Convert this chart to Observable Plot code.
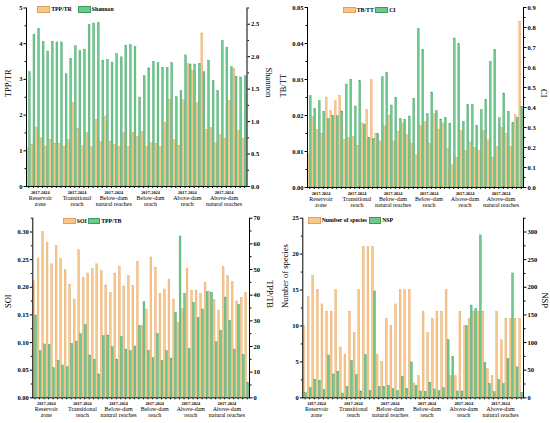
<!DOCTYPE html>
<html><head><meta charset="utf-8">
<script src="https://cdn.jsdelivr.net/npm/d3@7"></script>
<script src="https://cdn.jsdelivr.net/npm/@observablehq/plot@0.6"></script>
<style>
body{margin:0;background:#fff;}
#root{position:relative;width:550px;height:423px;overflow:hidden;font-family:"Liberation Serif","Times New Roman",serif;background:#fff;}
.panel{position:absolute;}
.panel svg{position:absolute;left:0;top:0;}
.sw{position:absolute;box-sizing:border-box;}
.lt{position:absolute;font-weight:bold;font-size:5.8px;white-space:nowrap;color:#000;font-family:"Liberation Serif","Times New Roman",serif;}
</style>
</head><body><div id="root"></div>
<script>
// ---------- data ----------
const yearSpan = "2017-2024";
const groupLine1 = ["Reservoir","Transitional","Below-dam","Below-dam","Above-dam","Above-dam"];
const groupLine2 = ["zone","reach","natural reaches","reach","reach","natural reaches"];

const tppTR = [1.07,1.17,1.65,1.35,1.12,1.31,1.2,1.2, 1.12,1.30,2.35,1.62,1.13,1.5,1.1,1.87,
  1.24,1.96,1.26,1.17,1.11,1.5,1.11,1.51, 1.39,1.53,1.11,1.21,1.19,1.11,1.79,2.43,
  1.3,1.14,2.42,3.43,3.24,2.33,4.29,1.59, 1.64,1.21,1.44,1.33,2.4,3.29,1.56,1.34];
const shannon = [1.76,2.34,2.43,2.23,2.08,2.23,2.22,2.22, 1.73,1.97,2.16,2.09,2.11,2.49,2.51,2.52,
  1.94,1.95,1.91,2.04,1.99,2.17,2.18,2.15, 1.37,1.70,1.82,1.92,1.90,1.83,1.83,1.90,
  1.38,1.47,2.02,1.88,1.88,1.89,1.76,1.94, 1.63,1.47,2.24,2.14,1.84,1.69,1.68,1.70];

const tbTT = [0.0093,0.0195,0.016,0.0149,0.025,0.0212,0.024,0.0255, 0.0133,0.0137,0.0141,0.0116,0.0178,0.0215,0.0298,0.015,
  0.0128,0.017,0.02,0.0128,0.0155,0.0178,0.0145,0.0122, 0.009,0.017,0.0182,0.0122,0.0204,0.0161,0.0178,0.0108,
  0.0062,0.0083,0.0157,0.0102,0.0125,0.011,0.0102,0.0157, 0.0131,0.0083,0.0113,0.0166,0.015,0.0112,0.0201,0.0461];
const ci = [0.457,0.392,0.434,0.376,0.342,0.356,0.356,0.380, 0.515,0.538,0.405,0.531,0.315,0.247,0.243,0.266,
  0.551,0.571,0.410,0.446,0.342,0.337,0.355,0.443, 0.792,0.686,0.367,0.475,0.382,0.340,0.349,0.317,
  0.745,0.716,0.328,0.412,0.412,0.306,0.387,0.437, 0.628,0.686,0.346,0.470,0.378,0.322,0.349,0.403];

const soi = [0.211,0.252,0.300,0.280,0.2415,0.275,0.251,0.231, 0.205,0.178,0.267,0.217,0.225,0.2325,0.2415,0.229,
  0.2035,0.190,0.225,0.2375,0.2015,0.220,0.202,0.246, 0.130,0.160,0.254,0.2355,0.188,0.196,0.214,0.178,
  0.135,0.161,0.234,0.194,0.194,0.188,0.208,0.191, 0.177,0.158,0.237,0.220,0.2095,0.1745,0.181,0.1895];
const tppTB = [32.1,18.2,20.8,20.6,11.6,14.5,12.6,11.9, 21.0,21.9,24.8,28.4,16.5,14.9,9.1,24.0,
  24.3,19.7,14.9,23.6,18.8,18.2,20.0,27.9, 37.3,18.3,15.5,24.9,14.4,18.2,15.3,33.2,
  62.9,40.5,19.1,37.0,31.2,34.4,41.2,40.9, 21.7,26.2,39.1,30.1,18.8,36.2,16.8,5.8];

const nSpecies = [10,14,17,15,13,12,12,15, 7,6,12,9,15,21,21,21,
  6,5,11,10,13,15,15,15, 2,3,12,9,11,12,12,15,
  3,3,12,10,11,12,12,12, 4,3,12,8,11,11,11,11];
const nsp = [8.4,17.5,32.6,30.8,13.9,76.6,42.2,47, 7.8,19.3,66.4,41,11.5,77.2,12.7,192.5,
  19.3,19.9,21.7,15.7,12.1,38,16.3,64, 21.7,11.5,10.9,27.2,15.1,12.1,17.5,104.4,
  73.6,11.5,11.5,130,167,160.5,294,63.4, 25.3,10,32,25,70,225,55,9];

// ---------- styles ----------
const FONT = "Liberation Serif, Times New Roman, serif";
const ORANGE = "#F8C78C", ORANGE_S = "#E0A05C", GREEN = "#6DC98D", GREEN_S = "#3B9A5E";
const root = document.getElementById("root");

function drawPanel(c) {
  const step = (c.w - c.ml - c.mr) / 48;
  const div = document.createElement("div");
  div.className = "panel";
  Object.assign(div.style, {left: c.left + "px", top: c.top + "px", width: c.w + "px", height: c.h + "px"});
  root.appendChild(div);
  const aRows = c.a.map((v, i) => ({i, v}));
  const bRows = c.b.map((v, i) => ({i, v}));
  const groups = d3.range(6).map(g => ({i: 8 * g + 2, l1: groupLine1[g], l2: groupLine2[g]}));
  const common = {
    width: c.w, height: c.h, marginLeft: c.ml, marginRight: c.mr, marginTop: c.mt, marginBottom: c.mb,
    style: {background: "transparent", fontFamily: FONT, color: "#000", overflow: "visible"}
  };
  const xBand = {type: "band", domain: d3.range(48), paddingInner: 0, paddingOuter: 0, round: false};
  const A = Plot.plot({
    ...common,
    x: xBand,
    y: {domain: c.dL},
    marks: [
      Plot.barY(aRows, {x: "i", y: "v", fill: ORANGE, stroke: ORANGE_S, strokeWidth: 0.35, insetLeft: 0.3, insetRight: step / 2 + 0.1}),
      Plot.axisY({ticks: c.tL, tickFormat: c.fL, tickSize: 2.5, tickPadding: 1.5, fontSize: 6.5, fontWeight: "bold", label: null}),
      Plot.axisY({ticks: c.mL, tickFormat: () => "", tickSize: 1.5, label: null}),
      Plot.axisX({ticks: d3.range(48), tickFormat: () => "", tickSize: 2, label: null}),
      Plot.frame({anchor: "left"}),
      Plot.frame({anchor: "bottom"}),
      Plot.text([c.labL], {frameAnchor: "left", rotate: -90, dx: -c.offL, fontSize: 8.5, text: d => d}),
      Plot.text(groups, {x: "i", dx: step / 2, frameAnchor: "bottom", dy: 7.5, text: () => yearSpan, fontSize: 4.3, fontWeight: "bold"}),
      Plot.text(groups, {x: "i", dx: step / 2, frameAnchor: "bottom", dy: 13.5, text: "l1", fontSize: 6}),
      Plot.text(groups, {x: "i", dx: step / 2, frameAnchor: "bottom", dy: 19.5, text: "l2", fontSize: 6})
    ]
  });
  const B = Plot.plot({
    ...common,
    x: {...xBand, axis: null},
    y: {domain: c.dR, axis: null},
    marks: [
      Plot.barY(bRows, {x: "i", y: "v", fill: GREEN, stroke: GREEN_S, strokeWidth: 0.35, insetLeft: step / 2 + 0.1, insetRight: 0.3}),
      Plot.axisY({anchor: "right", ticks: c.tR, tickFormat: c.fR, tickSize: 2.5, tickPadding: 1.5, fontSize: 6.5, fontWeight: "bold", label: null}),
      Plot.axisY({anchor: "right", ticks: c.mR, tickFormat: () => "", tickSize: 1.5, label: null}),
      Plot.frame({anchor: "right"}),
      Plot.text([c.labR], {frameAnchor: "right", rotate: 90, dx: c.offR, fontSize: 8.5, text: d => d})
    ]
  });
  div.appendChild(A);
  div.appendChild(B);
  // legend
  c.legend.forEach(e => {
    const s = document.createElement("div");
    s.className = "sw";
    Object.assign(s.style, {left: e.x + "px", top: c.legY + "px", width: e.w + "px", height: c.legH + "px",
      background: e.color === "o" ? ORANGE : GREEN, border: "0.6px solid " + (e.color === "o" ? ORANGE_S : GREEN_S)});
    root.appendChild(s);
    const t = document.createElement("div");
    t.className = "lt";
    t.textContent = e.label;
    Object.assign(t.style, {left: (e.x + e.w + 1.2) + "px", top: c.legY + "px", lineHeight: c.legH + "px"});
    root.appendChild(t);
  });
}

const r = (a, b, s) => d3.range(a, b + s / 2, s);

drawPanel({left: 0, top: 0, w: 275, h: 210, ml: 26, mr: 28.5, mt: 7.5, mb: 24,
  a: tppTR, b: shannon, dL: [0, 5], tL: r(0, 5, 1), mL: r(0.5, 4.5, 1), fL: d3.format("d"),
  dR: [0, 2.75], tR: r(0, 2.5, 0.5), mR: r(0.25, 2.75, 0.5), fR: d3.format(".1f"),
  labL: "TPP/TR", offL: 18.5, labR: "Shannon", offR: 21.5,
  legY: 6, legH: 7, legend: [{x: 37, w: 13, color: "o", label: "TPP/TR"}, {x: 78, w: 12.5, color: "g", label: "Shannon"}]});

drawPanel({left: 275, top: 0, w: 275, h: 210, ml: 32, mr: 27, mt: 7, mb: 23,
  a: tbTT, b: ci, dL: [0, 0.05], tL: r(0, 0.05, 0.01), mL: r(0.005, 0.045, 0.01), fL: d3.format(".2f"),
  dR: [0, 0.9], tR: r(0, 0.9, 0.1), mR: r(0.05, 0.85, 0.1), fR: d3.format(".1f"),
  labL: "TB/TT", offL: 24, labR: "CI", offR: 20.5,
  legY: 6.5, legH: 6.5, legend: [{x: 343, w: 12.5, color: "o", label: "TB/TT"}, {x: 375, w: 13, color: "g", label: "CI"}]});

drawPanel({left: 0, top: 210, w: 275, h: 213, ml: 32.3, mr: 26, mt: 7.7, mb: 25.7,
  a: soi, b: tppTB, dL: [0, 0.325], tL: r(0, 0.3, 0.05), mL: r(0.025, 0.325, 0.05), fL: d3.format(".2f"),
  dR: [0, 70], tR: r(0, 70, 10), mR: r(5, 65, 10), fR: d3.format("d"),
  labL: "SOI", offL: 25, labR: "TPP/TB", offR: 20,
  legY: 217.5, legH: 6.5, legend: [{x: 63, w: 12.5, color: "o", label: "SOI"}, {x: 87.5, w: 12.5, color: "g", label: "TPP/TB"}]});

drawPanel({left: 275, top: 210, w: 275, h: 213, ml: 27.3, mr: 27, mt: 7.7, mb: 25.7,
  a: nSpecies, b: nsp, dL: [0, 25], tL: r(0, 25, 5), mL: r(2.5, 22.5, 5), fL: d3.format("d"),
  dR: [0, 325], tR: r(0, 300, 50), mR: r(25, 325, 50), fR: d3.format("d"),
  labL: "Number of species", offL: 17.3, labR: "NSP", offR: 21,
  legY: 217, legH: 7, legend: [{x: 308, w: 12.5, color: "o", label: "Number of species"}, {x: 369, w: 12, color: "g", label: "NSP"}]});
</script></body></html>
